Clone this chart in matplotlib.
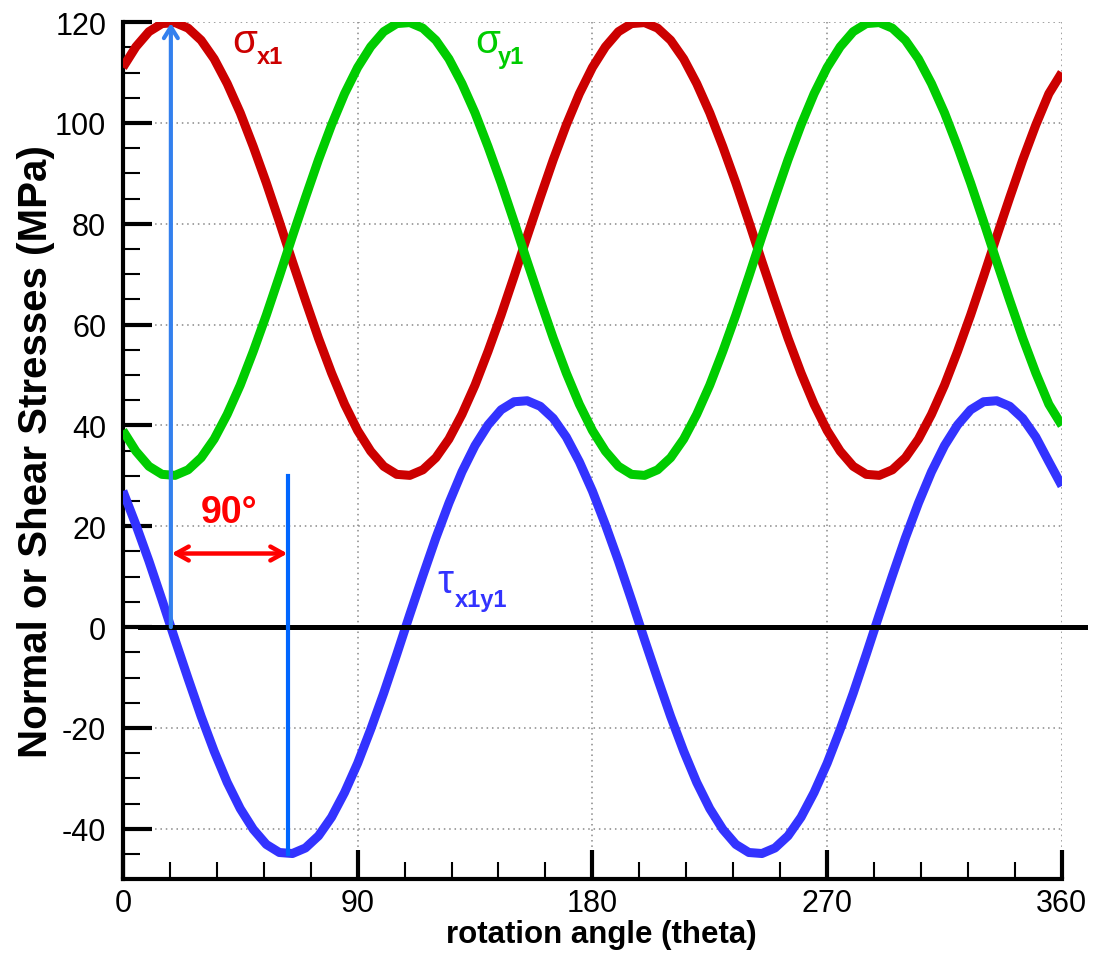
import matplotlib.pyplot as plt
import numpy as np

# rotation angle (deg), every 5 degrees
theta = np.arange(0, 361, 5)

sigma_x1 = [111.0, 115.1, 118.1, 119.7, 119.9, 118.8, 116.4, 112.7, 107.8, 102.0,
            95.3, 88.1, 80.4, 72.5, 64.8, 57.3, 50.4, 44.2, 39.0, 34.9,
            31.9, 30.3, 30.1, 31.2, 33.6, 37.3, 42.2, 48.0, 54.7, 61.9,
            69.6, 77.5, 85.2, 92.7, 99.6, 105.8, 111.0,
            115.1, 118.1, 119.7, 119.9, 118.8, 116.4, 112.7, 107.8, 102.0,
            95.3, 88.1, 80.4, 72.5, 64.8, 57.3, 50.4, 44.2, 39.0, 34.9,
            31.9, 30.3, 30.1, 31.2, 33.6, 37.3, 42.2, 48.0, 54.7, 61.9,
            69.6, 77.5, 85.2, 92.7, 99.6, 105.8, 110.0]

sigma_y1 = [39.0, 34.9, 31.9, 30.3, 30.1, 31.2, 33.6, 37.3, 42.2, 48.0,
            54.7, 61.9, 69.6, 77.5, 85.2, 92.7, 99.6, 105.8, 111.0, 115.1,
            118.1, 119.7, 119.9, 118.8, 116.4, 112.7, 107.8, 102.0, 95.3, 88.1,
            80.4, 72.5, 64.8, 57.3, 50.4, 44.2, 39.0,
            34.9, 31.9, 30.3, 30.1, 31.2, 33.6, 37.3, 42.2, 48.0,
            54.7, 61.9, 69.6, 77.5, 85.2, 92.7, 99.6, 105.8, 111.0, 115.1,
            118.1, 119.7, 119.9, 118.8, 116.4, 112.7, 107.8, 102.0, 95.3, 88.1,
            80.4, 72.5, 64.8, 57.3, 50.4, 44.2, 40.0]

tau_x1y1 = [27.0, 20.3, 13.1, 5.4, -2.5, -10.2, -17.7, -24.6, -30.8, -36.0,
            -40.1, -43.1, -44.7, -44.9, -43.8, -41.4, -37.7, -32.8, -27.0, -20.3,
            -13.1, -5.4, 2.5, 10.2, 17.7, 24.6, 30.8, 36.0, 40.1, 43.1,
            44.7, 44.9, 43.8, 41.4, 37.7, 32.8, 27.0,
            20.3, 13.1, 5.4, -2.5, -10.2, -17.7, -24.6, -30.8, -36.0,
            -40.1, -43.1, -44.7, -44.9, -43.8, -41.4, -37.7, -32.8, -27.0, -20.3,
            -13.1, -5.4, 2.5, 10.2, 17.7, 24.6, 30.8, 36.0, 40.1, 43.1,
            44.7, 44.9, 43.8, 41.4, 37.7, 32.8, 28.0]

# principal and max-shear angles
theta_p = 18.4
theta_s = 63.4

plt.rcParams['font.family'] = ['Liberation Sans', 'DejaVu Sans']
plt.rcParams['axes.unicode_minus'] = False

fig = plt.figure(figsize=(10.97, 9.62), dpi=100)
ax = fig.add_axes([0.112, 0.085, 0.856, 0.891])

for ys, col in [(sigma_x1, '#cc0000'), (sigma_y1, '#00cc00'), (tau_x1y1, '#3333ff')]:
    ax.plot(theta, ys, color=col, lw=6.5, solid_capstyle='butt',
            solid_joinstyle='round', zorder=3)

# zero line
ax.plot([6.5, 369], [0, 0], color='black', lw=3.6, clip_on=False, zorder=4)

# annotations
ax.annotate('', xy=(theta_p, 119.8), xytext=(theta_p, 0),
            arrowprops=dict(arrowstyle='->,head_length=0.8,head_width=0.5',
                            color='#3380ee', lw=3, shrinkA=0, shrinkB=0), zorder=5)
ax.plot([theta_s, theta_s], [-45, 30], color='#0066ff', lw=3, zorder=5)
ax.annotate('', xy=(theta_p + 0.3, 14.6), xytext=(theta_s - 0.3, 14.6),
            arrowprops=dict(arrowstyle='<->,head_length=0.9,head_width=0.5',
                            color='#ff0000', lw=3.2, shrinkA=0, shrinkB=0), zorder=5)
ax.text((theta_p + theta_s) / 2, 22.8, '90°', color='#ff0000', fontsize=27,
        fontweight='bold', ha='center', va='center')

# curve labels
ax.text(41.8, 114.0, 'σ', color='#cc0000', fontsize=29, ha='left', va='baseline')
ax.text(51.4, 111.8, 'x1', color='#cc0000', fontsize=17, fontweight='bold',
        ha='left', va='baseline')
ax.text(135.0, 114.0, 'σ', color='#00cc00', fontsize=29, ha='left', va='baseline')
ax.text(143.8, 111.8, 'y1', color='#00cc00', fontsize=17, fontweight='bold',
        ha='left', va='baseline')
ax.text(120.4, 6.9, 'τ', color='#3333ff', fontsize=29, ha='left', va='baseline')
ax.text(127.3, 4.1, 'x1y1', color='#3333ff', fontsize=17, fontweight='bold',
        ha='left', va='baseline')

ax.set_xlim(0, 360)
ax.set_ylim(-50, 120)
ax.set_xticks([0, 90, 180, 270, 360])
ax.set_xticks(np.arange(0, 361, 18), minor=True)
ax.set_yticks(np.arange(-40, 121, 20))
ax.set_yticks(np.arange(-50, 121, 5), minor=True)

ax.grid(True, which='major', color='#888888', linestyle=(0, (1, 2.5)), lw=1.1)
ax.tick_params(which='major', direction='in', length=21, width=3, labelsize=22)
ax.tick_params(axis='x', which='major', pad=6)
ax.tick_params(axis='y', which='major', pad=12)
ax.tick_params(which='minor', direction='in', length=12, width=1.5)

for side in ['top', 'right']:
    ax.spines[side].set_visible(False)
for side in ['left', 'bottom']:
    ax.spines[side].set_linewidth(3)

ax.set_xlabel('rotation angle (theta)', fontsize=22.5, fontweight='bold', va='top')
ax.xaxis.set_label_coords(0.509, -0.046)
ax.set_ylabel('Normal or Shear Stresses (MPa)', fontsize=29, fontweight='bold', va='center')
ax.yaxis.set_label_coords(-0.0927, 0.5)

fig.savefig('out.png', dpi=100)
